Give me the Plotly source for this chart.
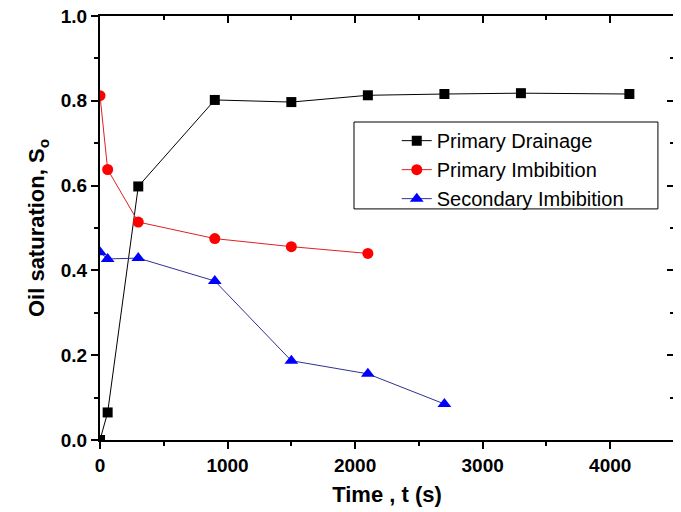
import plotly.graph_objects as go

# Data
t_drain = [0, 60, 300, 900, 1500, 2100, 2700, 3300, 4150]
so_drain = [0.0, 0.065, 0.598, 0.802, 0.797, 0.813, 0.816, 0.818, 0.816]

t_imb1 = [0, 60, 300, 900, 1500, 2100]
so_imb1 = [0.812, 0.638, 0.514, 0.475, 0.456, 0.440]

t_imb2 = [0, 60, 300, 900, 1500, 2100, 2700]
so_imb2 = [0.443, 0.427, 0.429, 0.375, 0.187, 0.156, 0.085]

x_ticks = [0, 1000, 2000, 3000, 4000]
y_ticks = [0.0, 0.2, 0.4, 0.6, 0.8, 1.0]
y_ticklabels = ["0.0", "0.2", "0.4", "0.6", "0.8", "1.0"]

fig = go.Figure()
fig.add_trace(go.Scatter(x=t_drain, y=so_drain, mode="lines+markers", name="Primary Drainage",
                         line=dict(color="black", width=1),
                         marker=dict(symbol="square", size=10, color="black")))
fig.add_trace(go.Scatter(x=t_imb1, y=so_imb1, mode="lines+markers", name="Primary Imbibition",
                         line=dict(color="#e02020", width=1),
                         marker=dict(symbol="circle", size=11, color="#ff0000")))
fig.add_trace(go.Scatter(x=t_imb2, y=so_imb2, mode="lines+markers", name="Secondary Imbibition",
                         line=dict(color="#303090", width=1),
                         marker=dict(symbol="triangle-up", size=12, color="#0000ff")))
# invisible helper trace so that the mirrored (inward-tick) axes are drawn
fig.add_trace(go.Scatter(x=t_drain, y=so_drain, xaxis="x2", yaxis="y2", mode="markers",
                         marker=dict(opacity=0), showlegend=False, hoverinfo="skip"))

tickfont = dict(family="Liberation Sans, Arial", size=19, color="black", weight="bold")
titlefont = dict(family="Liberation Sans, Arial", size=22, color="black", weight="bold")

# legend frame (paper coordinates)
fig.add_shape(type="rect", xref="paper", yref="paper", x0=0.4425, x1=0.972, y0=0.545, y1=0.75,
              line=dict(color="black", width=1), fillcolor="white", layer="above")

# page body has an 8px margin, so the figure is sized/offset to compensate
fig.update_layout(
    width=673, height=504,
    margin=dict(l=92, r=7, t=8, b=72, autoexpand=False),
    paper_bgcolor="white", plot_bgcolor="white",
    showlegend=True,
    legend=dict(x=0.517, y=0.752, xanchor="left", yanchor="top",
                borderwidth=0, bgcolor="rgba(0,0,0,0)",
                font=dict(family="Liberation Sans, Arial", size=20, color="black"),
                tracegroupgap=0),
    xaxis=dict(range=[0, 4500], tickvals=x_ticks, tickfont=tickfont, automargin=False,
               ticklabeloverflow="allow",
               showline=True, mirror=True, linecolor="black", linewidth=2, showgrid=False, zeroline=False,
               ticks="outside", ticklen=7, tickwidth=2, tickcolor="black",
               minor=dict(ticks="outside", ticklen=4, tickwidth=2, dtick=500, tick0=0, tickcolor="black"),
               title=dict(text="Time , t (s)", font=titlefont, standoff=12)),
    yaxis=dict(range=[0, 1.0], tickvals=y_ticks, ticktext=y_ticklabels, tickfont=tickfont, automargin=False,
               ticklabeloverflow="allow",
               showline=True, mirror=True, linecolor="black", linewidth=2, showgrid=False, zeroline=False,
               ticks="outside", ticklen=7, tickwidth=2, tickcolor="black",
               minor=dict(ticks="outside", ticklen=4, tickwidth=2, dtick=0.1, tick0=0, tickcolor="black"),
               title=dict(text="Oil saturation, S<sub>o</sub>", font=titlefont, standoff=10)),
    xaxis2=dict(range=[0, 4500], overlaying="x", side="top", anchor="y", automargin=False,
                tickmode="linear", tick0=0, dtick=1000, showticklabels=False,
                showline=True, linecolor="black", linewidth=2, showgrid=False, zeroline=False,
                ticks="inside", ticklen=7, tickwidth=2, tickcolor="black",
                minor=dict(ticks="inside", ticklen=4, tickwidth=2, dtick=500, tick0=0, tickcolor="black")),
    yaxis2=dict(range=[0, 1.0], overlaying="y", side="right", anchor="x", automargin=False,
                tickmode="linear", tick0=0, dtick=0.2, showticklabels=False,
                showline=True, linecolor="black", linewidth=2, showgrid=False, zeroline=False,
                ticks="inside", ticklen=7, tickwidth=2, tickcolor="black",
                minor=dict(ticks="inside", ticklen=4, tickwidth=2, dtick=0.1, tick0=0, tickcolor="black")),
)

fig.write_html("out.html")
